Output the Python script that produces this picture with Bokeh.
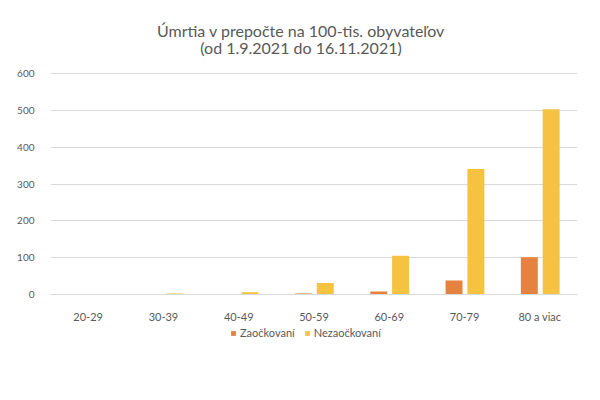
from bokeh.plotting import figure
from bokeh.models import Range1d, FactorRange, Legend, LegendItem, Label
from bokeh.transform import dodge
from bokeh.embed import file_html
from bokeh.resources import INLINE

categories = ["20-29", "30-39", "40-49", "50-59", "60-69", "70-79", "80 a viac"]
zaockovani = [0, 0, 0.5, 3, 8, 38, 101]
nezaockovani = [0.5, 3, 6, 31, 105, 341, 503]
y_ticks = [0, 100, 200, 300, 400, 500, 600]
title_lines = ["Úmrtia v prepočte na 100-tis. obyvateľov", "(od 1.9.2021 do 16.11.2021)"]

FONT = "Lato"
GRAY = "#595959"

k = 221 / 600.0  # px per unit
y_lo = -56 / k
y_hi = 600 + 63 / k

p = figure(frame_width=527, frame_height=340, output_backend="svg", toolbar_location=None,
           x_range=FactorRange(*categories, range_padding=0), y_range=Range1d(y_lo, y_hi),
           min_border_left=50, min_border_right=15, min_border_top=10, min_border_bottom=10)

src = dict(cat=categories, z=zaockovani, n=nezaockovani)
r1 = p.vbar(x=dodge("cat", -0.14, range=p.x_range), top="z", width=0.225, source=src,
            fill_color="#E5823F", line_color=None)
r2 = p.vbar(x=dodge("cat", 0.15, range=p.x_range), top="n", width=0.225, source=src,
            fill_color="#F5C242", line_color=None)

p.outline_line_color = None
p.xgrid.grid_line_color = None
p.ygrid.grid_line_color = "#D9D9D9"
p.yaxis.ticker = y_ticks
p.yaxis.axis_line_color = None
p.yaxis.major_tick_line_color = None
p.yaxis.minor_tick_line_color = None
p.yaxis.major_label_text_font = FONT
p.yaxis.major_label_text_font_size = "10px"
p.yaxis.major_label_text_color = GRAY
p.yaxis.major_label_standoff = 10

p.xaxis.fixed_location = 0
p.xaxis.axis_line_color = "#D9D9D9"
p.xaxis.major_tick_line_color = None
p.xaxis.minor_tick_line_color = None
p.xaxis.major_label_text_font = FONT
p.xaxis.major_label_text_font_size = "11px"
p.xaxis.major_label_text_color = GRAY
p.xaxis.major_label_standoff = 9

for txt, yy in zip(title_lines, [600 + 43 / k, 600 + 26 / k]):
    p.add_layout(Label(x=3.5, y=yy, x_offset=-13, text=txt, text_align="center",
                       text_baseline="middle", text_font=FONT, text_font_size="16px",
                       text_color=GRAY))

legend = Legend(items=[LegendItem(label="Zaočkovaní", renderers=[r1]),
                       LegendItem(label="Nezaočkovaní", renderers=[r2])],
                orientation="horizontal", location=(180, 11),
                label_text_font=FONT, label_text_font_size="11px", label_text_color=GRAY,
                glyph_width=6, glyph_height=6, spacing=9, label_standoff=4,
                border_line_color=None, background_fill_alpha=0, margin=0, padding=4)
p.add_layout(legend, "center")

open("out.html", "w").write(file_html(p, INLINE))
